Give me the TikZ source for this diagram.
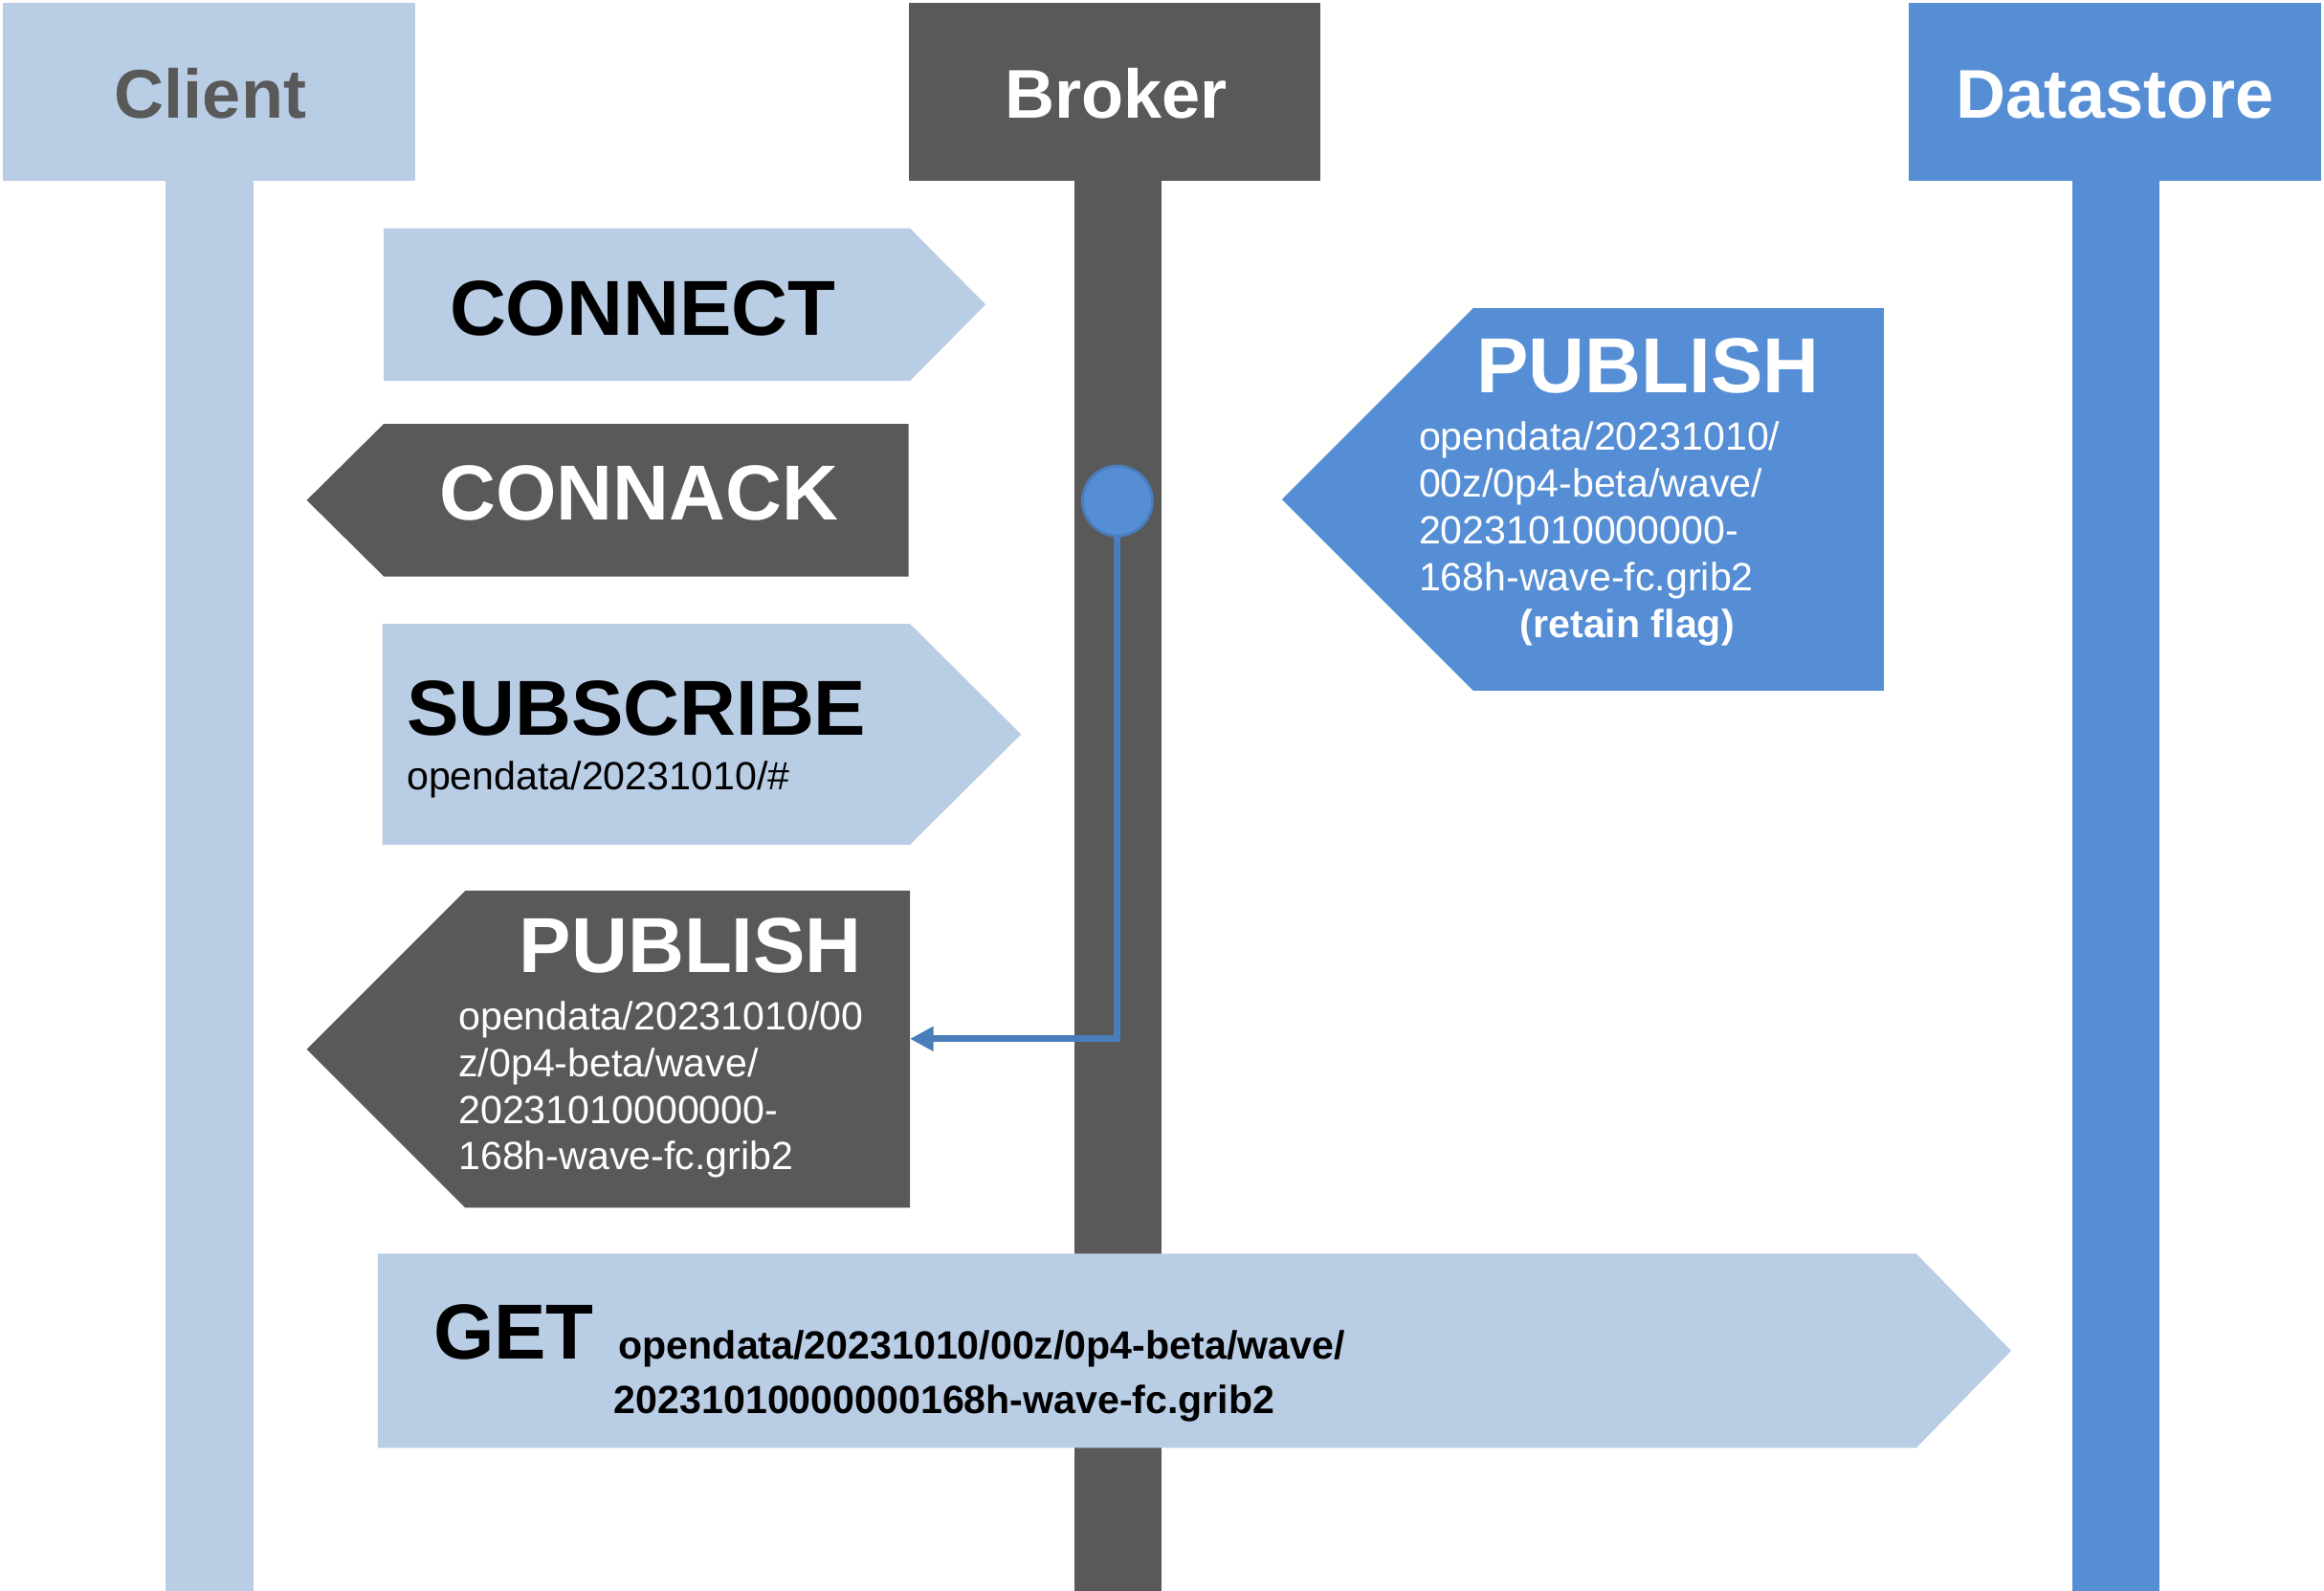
\documentclass[tikz,border=0pt]{standalone}
\usepackage{fontspec}
\setmainfont{Liberation Sans}
\usetikzlibrary{arrows.meta}
\definecolor{lblue}{HTML}{B9CDE5}
\definecolor{dgray}{HTML}{595959}
\definecolor{mblue}{HTML}{558ED5}
\definecolor{lineblue}{HTML}{4A7EBB}
\begin{document}
\begin{tikzpicture}[x=0.01549cm,y=-0.01549cm,
  hdr/.style={font=\fontsize{20.5}{24}\selectfont\bfseries, inner sep=0pt, anchor=base},
  big/.style={font=\fontsize{23.2}{27}\selectfont\bfseries, inner sep=0pt, anchor=base west},
  small/.style={font=\fontsize{11.7}{14}\selectfont, inner sep=0pt, anchor=base west},
  smallb/.style={font=\fontsize{11.7}{14}\selectfont\bfseries, inner sep=0pt, anchor=base west},
  dot/.style={circle, fill=mblue, draw=lineblue, line width=0.8pt, minimum size=0.73cm, inner sep=0pt},
  link/.style={lineblue, line width=2pt, -{Triangle[length=7pt,width=7pt]}}]
\useasboundingbox (0,0) rectangle (1568.1,1073.6);
% lifelines
\fill[lblue] (112,122) rectangle (171,1074);
\fill[dgray] (725,122) rectangle (784,1074);
\fill[mblue] (1398,122) rectangle (1457,1074);
% headers
\fill[lblue] (2,2) rectangle (280,122);
\fill[dgray] (613,2) rectangle (891,122);
\fill[mblue] (1288,2) rectangle (1566,122);
\node[hdr, text=dgray] (client) at (142,80) {Client};
\node[hdr, text=white] (broker) at (753,80) {Broker};
\node[hdr, text=white] (datastore) at (1427,80) {Datastore};
% CONNECT
\fill[lblue] (259,154) -- (614,154) -- (665,205.5) -- (614,257) -- (259,257) -- cycle;
\node[big] (connect) at (303,226) {CONNECT};
% CONNACK
\fill[dgray] (259,286) -- (613,286) -- (613,389) -- (259,389) -- (207,337.5) -- cycle;
\node[big, text=white] (connack) at (296,351) {CONNACK};
% SUBSCRIBE
\fill[lblue] (258,421) -- (614,421) -- (689,495.5) -- (614,570) -- (258,570) -- cycle;
\node[big] (subscribe) at (274,496) {SUBSCRIBE};
\node[small] (subtopic) at (274,533) {opendata/20231010/\#};
% PUBLISH to client
\fill[dgray] (314,601) -- (614,601) -- (614,815) -- (314,815) -- (207,708) -- cycle;
\node[big, text=white, anchor=base east] (pubc) at (582,656) {PUBLISH};
\node[small, text=white] (pubc1) at (309,695) {opendata/20231010/00};
\node[small, text=white] (pubc2) at (309,726.5) {z/0p4-beta/wave/};
\node[small, text=white] (pubc3) at (309,758) {20231010000000-};
\node[small, text=white] (pubc4) at (309,789.5) {168h-wave-fc.grib2};
% PUBLISH from datastore
\fill[mblue] (994,208) -- (1271,208) -- (1271,466) -- (994,466) -- (865,337) -- cycle;
\node[big, text=white] (pubd) at (996,265) {PUBLISH};
\node[small, text=white] (pubd1) at (957,304) {opendata/20231010/};
\node[small, text=white] (pubd2) at (957,335.5) {00z/0p4-beta/wave/};
\node[small, text=white] (pubd3) at (957,367) {20231010000000-};
\node[small, text=white] (pubd4) at (957,398.5) {168h-wave-fc.grib2};
\node[smallb, text=white, anchor=base] (retain) at (1098,430) {(retain flag)};
% GET
\fill[lblue] (255,846) -- (1293,846) -- (1357,911.5) -- (1293,977) -- (255,977) -- cycle;
\node[big] (get) at (292,917) {GET};
\node[smallb] (get1) at (417,917) {opendata/20231010/00z/0p4-beta/wave/};
\node[smallb] (get2) at (414,954) {20231010000000168h-wave-fc.grib2};
% retained message forwarded
\node[dot] (retdot) at (754,338) {};
\coordinate (pubin) at (614,701);
\draw[link] (retdot.south) |- (pubin);
\end{tikzpicture}
\end{document}
